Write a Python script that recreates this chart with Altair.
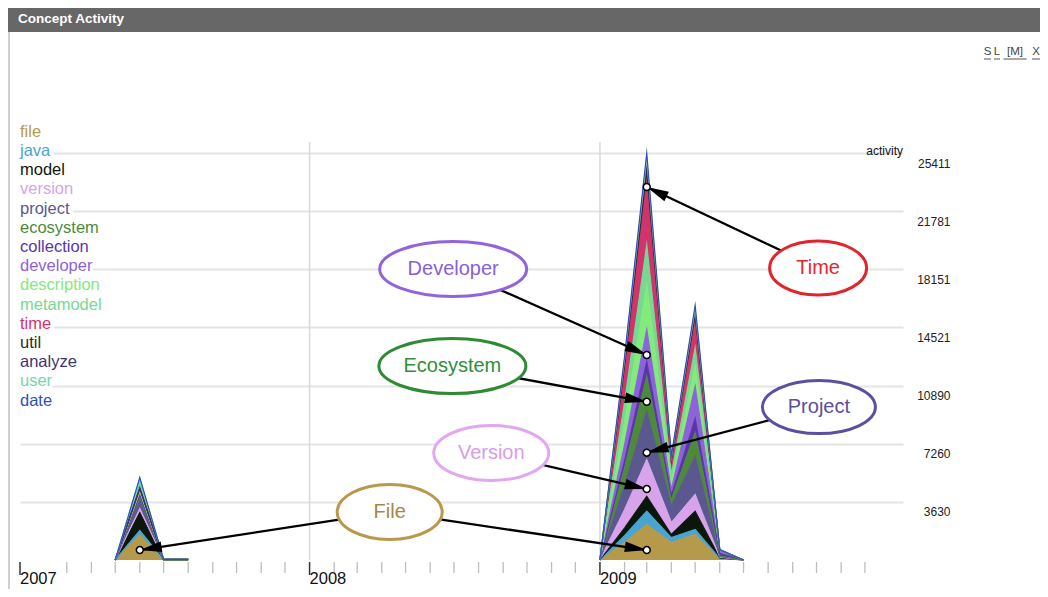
import math
from datetime import date
import altair as alt
import pandas as pd

FONT = "Liberation Sans"

# ---------------- data ----------------
names = ["file", "java", "model", "version", "project", "ecosystem", "collection",
         "developer", "description", "metamodel", "time", "util", "analyze", "user", "date"]
colors = ["#b59a4c", "#48a4d0", "#0c170c", "#d7a4eb", "#5b5890", "#4d8b3b", "#5a35a8",
          "#8c63da", "#84ea7c", "#75d993", "#d2336b", "#2b2b2b", "#3b3572", "#74d8a6", "#3050b8"]

months = ["2007-05-01", "2007-06-01", "2007-07-01", "2007-08-01",
          "2009-01-01", "2009-02-01", "2009-03-01", "2009-04-01", "2009-05-01", "2009-06-01", "2009-07-01"]
segment = [0, 0, 0, 0, 1, 1, 1, 1, 1, 1, 1]

file_v        = [0, 1590, 0, 0, 0, 1100, 2215, 1090, 1590, 80, 0]
java_v        = [0, 250, 0, 0, 0, 420, 830, 310, 310, 20, 0]
model_v       = [0, 1125, 0, 0, 0, 470, 937, 190, 1145, 30, 0]
version_v     = [0, 250, 0, 0, 0, 1150, 2290, 750, 1045, 40, 0]
project_v     = [0, 600, 0, 0, 0, 1500, 3015, 1020, 2390, 50, 0]
ecosystem_v   = [0, 150, 0, 0, 0, 1100, 2184, 415, 1460, 30, 0]
collection_v  = [0, 120, 40, 40, 0, 450, 900, 250, 900, 150, 0]
developer_v   = [0, 150, 0, 0, 0, 1000, 2014, 375, 2010, 200, 0]
description_v = [0, 60, 0, 0, 0, 1400, 2800, 500, 1300, 10, 0]
metamodel_v   = [0, 60, 0, 0, 0, 1250, 2500, 450, 1100, 10, 0]
time_v        = [0, 80, 0, 0, 0, 2100, 4226, 800, 1850, 10, 0]
util_v        = [0, 40, 0, 0, 0, 200, 400, 100, 200, 5, 0]
analyze_v     = [0, 50, 0, 0, 0, 250, 500, 100, 250, 5, 0]
user_v        = [0, 600, 0, 0, 0, 150, 300, 80, 150, 5, 0]
date_v        = [0, 20, 0, 0, 0, 150, 300, 70, 200, 5, 0]

series_values = [file_v, java_v, model_v, version_v, project_v, ecosystem_v, collection_v,
                 developer_v, description_v, metamodel_v, time_v, util_v, analyze_v, user_v, date_v]

y_ticks = [3630, 7260, 10890, 14521, 18151, 21781, 25411]
year_labels = ["2007", "2008", "2009"]
year_dates = ["2007-01-01", "2008-01-01", "2009-01-01"]
grid_years = ["2008-01-01", "2009-01-01"]

# annotations (in data space)
ann_labels = ["Developer", "Ecosystem", "Version", "File", "Time", "Project"]
ann_dates = ["2008-06-30", "2008-06-29", "2008-08-17", "2008-04-11", "2009-10-03", "2009-10-04"]
ann_values = [18170, 12110, 6680, 3000, 18230, 9550]
ann_w = [147, 147, 115, 105, 97, 113]
ann_h = [55, 55, 55, 55, 54, 53]
ann_stroke = ["#9163dc", "#2e8b34", "#e1a7f0", "#b8994c", "#e2242b", "#5b50a0"]
ann_text = ["#8a60d8", "#2f8f3a", "#d99bea", "#a38845", "#e3262e", "#5a4fa0"]

arrow_from = ["Developer", "Ecosystem", "Version", "File", "File", "Time", "Project"]
arrow_to_date = ["2009-03-01", "2009-03-01", "2009-03-01", "2007-06-01", "2009-03-01", "2009-03-01", "2009-03-01"]
arrow_to_value = [12800, 9880, 4430, 620, 620, 23290, 6700]

menu_items = ["S", "L", "[M]", "X"]

# ---------------- geometry of the plot ----------------
W, H = 883, 418
X0 = date(2007, 1, 1)
X1 = date(2010, 1, 18)
YMAX = 26100

xscale = alt.Scale(domain=[alt.DateTime(year=2007, month=1, date=1, utc=True),
                           alt.DateTime(year=2010, month=1, date=18, utc=True)])
yscale = alt.Scale(domain=[0, YMAX], nice=False, zero=True)

rows = []
for i, (n, vals) in enumerate(zip(names, series_values)):
    for m, s, v in zip(months, segment, vals):
        rows.append({"name": n, "rank": i, "date": m, "value": v, "seg": s})
df = pd.DataFrame(rows)

color_scale = alt.Scale(domain=names, range=colors)


def area_layer(data, with_axis):
    yaxis = alt.Axis(orient="right", values=y_ticks, format="d", grid=True, gridColor="#e4e4e4",
                     gridWidth=2, domain=False, ticks=False, tickSize=0, labelAlign="right",
                     labelPadding=47, labelFontSize=12, labelColor="#222", labelFont=FONT,
                     labelBaseline="middle", labelOffset=10, labelOverlap=False,
                     title=None) if with_axis else None
    return alt.Chart(data).mark_area(
        line={"strokeWidth": 1.2, "strokeMiterLimit": 40}, opacity=1, interpolate="linear"
    ).encode(
        x=alt.X("date:T", scale=xscale, axis=None),
        y=alt.Y("value:Q", stack="zero", scale=yscale, axis=yaxis),
        color=alt.Color("name:N", scale=color_scale, legend=None),
        order=alt.Order("rank:Q", sort="ascending"),
    )


area07 = area_layer(df[df.seg == 0], True)
area09 = area_layer(df[df.seg == 1], False)

# year gridlines
grid_df = pd.DataFrame({"d": grid_years})
vgrid = alt.Chart(grid_df).mark_rule(color="#d9d9d9", strokeWidth=1.5).encode(
    x=alt.X("d:T", scale=xscale, axis=None), y=alt.value(0), y2=alt.value(H))

# month ticks (Feb 2007 hidden by the label in the reference)
all_months = [d.strftime("%Y-%m-%d") for d in pd.date_range("2007-01-01", "2009-12-01", freq="MS")]
month_ticks = [m for m in all_months if not m.endswith("-01-01") and m != "2007-02-01"]
mt = alt.Chart(pd.DataFrame({"d": month_ticks})).mark_rule(color="#bdbdbd", strokeWidth=1.3).encode(
    x=alt.X("d:T", scale=xscale, axis=None), y=alt.value(H + 2), y2=alt.value(H + 13))
yt = alt.Chart(pd.DataFrame({"d": year_dates})).mark_rule(color="#333", strokeWidth=1.5).encode(
    x=alt.X("d:T", scale=xscale, axis=None), y=alt.value(H + 2), y2=alt.value(H + 15))
ylab = alt.Chart(pd.DataFrame({"d": year_dates, "t": year_labels})).mark_text(
    align="left", baseline="alphabetic", fontSize=16.5, font=FONT, color="#111").encode(
    x=alt.X("d:T", scale=xscale, axis=None), y=alt.value(H + 24), text="t:N")

# legend as coloured text
leg_df = pd.DataFrame({"name": names, "rank": list(range(len(names)))})
leg_y = alt.Y("name:N", sort=names, axis=None,
              scale=alt.Scale(type="point", domain=names, range=[-5.3, 263.7], padding=0))
leg_halo = alt.Chart(leg_df).mark_text(align="left", baseline="alphabetic", fontSize=16.5, font=FONT,
                                       color="white", stroke="white", strokeWidth=7).encode(
    x=alt.value(0), y=leg_y, text="name:N")
leg_text = alt.Chart(leg_df).mark_text(align="left", baseline="alphabetic", fontSize=16.5, font=FONT).encode(
    x=alt.value(0), y=leg_y, text="name:N",
    color=alt.Color("name:N", scale=color_scale, legend=None))

# frame decorations
one = pd.DataFrame({"t": ["Concept Activity"]})
header = alt.Chart(one).mark_rect(color="#676767").encode(
    x=alt.value(-12), x2=alt.value(1020), y=alt.value(-134), y2=alt.value(-110))
title = alt.Chart(one).mark_text(align="left", baseline="middle", fontSize=13.5, fontWeight="bold",
                                 font=FONT, color="white").encode(
    x=alt.value(-2), y=alt.value(-123), text="t:N")
border = alt.Chart(one).mark_rule(color="#cfcfcf", strokeWidth=2).encode(
    x=alt.value(-11), y=alt.value(-110), y2=alt.value(447))

menu_layers = []
menu_pos = [(967.5, 3.5), (977, 3), (995, 11.5), (1016, 4)]
for item, (cx, half) in zip(menu_items, menu_pos):
    mdf = pd.DataFrame({"t": [item]})
    menu_layers.append(alt.Chart(mdf).mark_text(
        align="center", baseline="middle", fontSize=11.5, font=FONT, color="#444").encode(
        x=alt.value(cx), y=alt.value(-90), text="t:N"))
    menu_layers.append(alt.Chart(mdf).mark_rule(color="#555", strokeWidth=1).encode(
        x=alt.value(cx - half), x2=alt.value(cx + half), y=alt.value(-83)))

act = alt.Chart(pd.DataFrame({"t": ["activity"]})).mark_text(
    align="right", baseline="middle", fontSize=12, font=FONT, color="#111").encode(
    x=alt.value(W), y=alt.value(9), text="t:N")

# annotations
px_day = W / (X1 - X0).days
px_val = H / YMAX
center = {l: (d, v) for l, d, v in zip(ann_labels, ann_dates, ann_values)}
arows = []
for f, td, tv in zip(arrow_from, arrow_to_date, arrow_to_value):
    sd, sv = center[f]
    dx = (date.fromisoformat(td) - date.fromisoformat(sd)).days * px_day
    dy = -(tv - sv) * px_val
    ang = (math.degrees(math.atan2(dx, -dy)) + 360) % 360
    arows.append({"sd": sd, "sv": sv, "td": td, "tv": tv, "ang": ang})
arr_df = pd.DataFrame(arows)


def ellipse_path(r):
    k = 0.5523
    a, b = round(k * r, 4), round(r, 4)
    return (f"M1,0 C1,{a} {k},{b} 0,{b} C{-k},{b} -1,{a} -1,0 "
            f"C-1,{-a} {-k},{-b} 0,{-b} C{k},{-b} 1,{-a} 1,0 Z")


ell_df = pd.DataFrame({
    "label": ann_labels, "d": ann_dates, "v": ann_values,
    "path": [ellipse_path(h / w) for w, h in zip(ann_w, ann_h)],
    "sz": [w * w for w in ann_w], "sc": ann_stroke, "tc": ann_text,
})

arrow_lines = alt.Chart(arr_df).mark_rule(color="black", strokeWidth=2.3).encode(
    x=alt.X("sd:T", scale=xscale, axis=None), y=alt.Y("sv:Q", scale=yscale, axis=None),
    x2="td:T", y2="tv:Q")
ellipses = alt.Chart(ell_df).mark_point(strokeWidth=3, opacity=1, fillOpacity=1).encode(
    x=alt.X("d:T", scale=xscale, axis=None), y=alt.Y("v:Q", scale=yscale, axis=None),
    shape=alt.Shape("path:N", scale=None), size=alt.Size("sz:Q", scale=None),
    stroke=alt.Stroke("sc:N", scale=None), fill=alt.value("white"))
ell_text = alt.Chart(ell_df).mark_text(fontSize=20, font=FONT, align="center", baseline="middle").encode(
    x=alt.X("d:T", scale=xscale, axis=None), y=alt.Y("v:Q", scale=yscale, axis=None),
    text="label:N", color=alt.Color("tc:N", scale=None))
heads = alt.Chart(arr_df).mark_point(shape="M0,0 L0.24,1 L-0.24,1 Z", size=1936, filled=True,
                                     color="black", opacity=1).encode(
    x=alt.X("td:T", scale=xscale, axis=None), y=alt.Y("tv:Q", scale=yscale, axis=None),
    angle=alt.Angle("ang:Q", scale=None))
dots = alt.Chart(arr_df).mark_point(shape="circle", size=48, fill="white", stroke="black",
                                    strokeWidth=1.5, opacity=1, fillOpacity=1).encode(
    x=alt.X("td:T", scale=xscale, axis=None), y=alt.Y("tv:Q", scale=yscale, axis=None))

chart = alt.layer(
    vgrid, area07, area09, mt, yt, ylab, leg_halo, leg_text,
    header, title, border, *menu_layers, act,
    arrow_lines, ellipses, ell_text, heads, dots,
).resolve_scale(y="independent", color="independent").properties(
    width=W, height=H, background="white",
    padding={"left": 12, "top": 134, "right": 137, "bottom": 29},
    autosize=alt.AutoSizeParams(type="none"),
).configure_view(strokeWidth=0, stroke=None)

chart.save("out.html", embed_options={"renderer": "svg", "actions": False})
